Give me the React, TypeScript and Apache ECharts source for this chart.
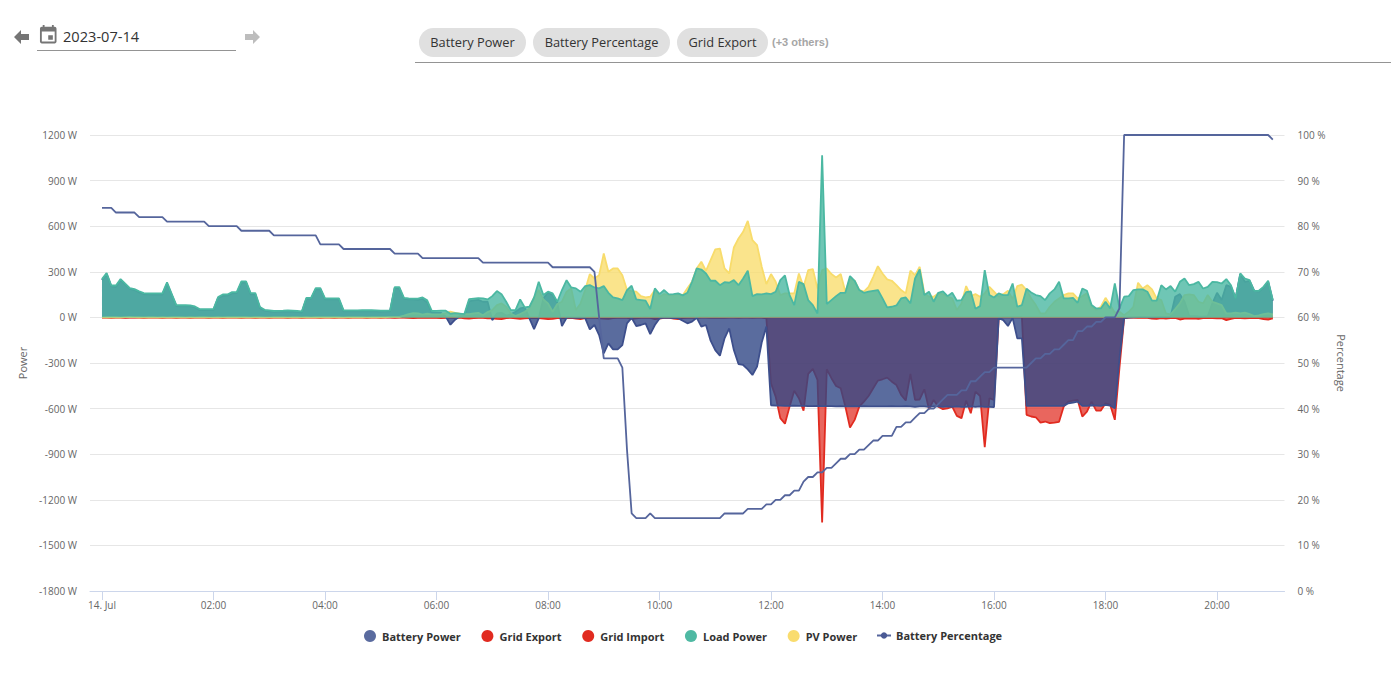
import React, { useEffect, useRef } from "react";
import * as echarts from "echarts";

const STEP_MINUTES = 5;
const xLabelMinutes = [0, 120, 240, 360, 480, 600, 720, 840, 960, 1080, 1200];
const chips = ["Battery Power", "Battery Percentage", "Grid Export"];

const loadPower = [
  252, 291, 210, 210, 252, 222, 193, 186, 172, 160, 158, 158,
  158, 158, 230, 155, 81, 80, 80, 79, 72, 55, 55, 55,
  55, 134, 151, 151, 166, 166, 237, 237, 160, 160, 68, 50,
  46, 42, 43, 44, 46, 44, 42, 39, 129, 129, 193, 193,
  125, 125, 125, 125, 46, 46, 46, 46, 47, 47, 48, 46,
  44, 45, 46, 199, 199, 129, 125, 124, 123, 131, 112, 42,
  43, 44, 44, 24, 28, 25, 22, 120, 124, 127, 125, 118,
  140, 173, 153, 103, 48, 48, 118, 66, 70, 131, 234, 147,
  169, 158, 103, 180, 245, 197, 191, 169, 206, 212, 197, 191,
  206, 162, 131, 125, 114, 180, 208, 118, 114, 110, 55, 191,
  153, 180, 151, 153, 158, 145, 162, 234, 322, 315, 289, 241,
  241, 212, 232, 228, 245, 212, 256, 307, 140, 153, 151, 158,
  153, 169, 245, 276, 147, 81, 234, 219, 114, 81, 26, 1066,
  88, 114, 140, 162, 162, 272, 241, 180, 162, 169, 175, 180,
  125, 66, 70, 79, 125, 131, 92, 256, 315, 147, 169, 103,
  162, 171, 140, 162, 110, 114, 166, 171, 57, 74, 311, 147,
  131, 158, 147, 147, 223, 70, 81, 188, 164, 147, 140, 114,
  158, 184, 234, 125, 125, 129, 96, 190, 175, 81, 59, 59,
  103, 59, 223, 59, 136, 140, 180, 184, 184, 169, 110, 110,
  212, 184, 206, 169, 234, 256, 212, 219, 234, 190, 201, 234,
  232, 223, 252, 212, 125, 289, 256, 245, 175, 175, 201, 241,
  114,
];

const pvPower = [
  0, 1, 2, 1, 0, 2, 3, 2, 1, 0, 1, 1,
  0, 1, 0, 1, 2, 1, 0, 1, 0, 1, 1, 0,
  0, 1, 0, 1, 1, 2, 1, 1, 0, 1, 1, 0,
  0, 1, 2, 1, 0, 1, 1, 0, 1, 0, 1, 1,
  1, 1, 2, 1, 0, 1, 1, 2, 1, 0, 1, 1,
  2, 1, 4, 3, 4, 12, 22, 28, 26, 18, 24, 20,
  20, 22, 28, 38, 30, 24, 22, 22, 26, 30, 14, 35,
  48, 81, 92, 70, 26, 9, 22, 37, 59, 131, 180, 118,
  92, 37, 88, 103, 169, 191, 48, 92, 180, 285, 256, 278,
  420, 300, 322, 322, 278, 180, 173, 169, 140, 131, 136, 180,
  136, 153, 147, 145, 153, 145, 191, 234, 322, 366, 307, 377,
  447, 453, 322, 289, 460, 519, 563, 635, 508, 475, 333, 219,
  285, 234, 147, 158, 158, 158, 289, 201, 311, 318, 190, 311,
  322, 285, 263, 285, 169, 256, 241, 180, 169, 201, 267, 337,
  289, 250, 241, 212, 180, 158, 307, 278, 333, 158, 136, 136,
  158, 153, 136, 125, 48, 92, 206, 140, 153, 136, 158, 201,
  169, 136, 153, 175, 120, 206, 215, 180, 125, 81, 26, 26,
  70, 103, 125, 147, 158, 158, 125, 140, 158, 70, 48, 70,
  129, 81, 31, 37, 15, 37, 70, 228, 190, 212, 184, 125,
  114, 26, 20, 55, 92, 147, 151, 147, 103, 92, 147, 103,
  92, 81, 26, 26, 31, 26, 31, 22, 9, 13, 22, 26,
  20,
];

const batteryPower = [
  245, 285, 205, 200, 245, 215, 188, 180, 165, 152, 152, 150,
  152, 150, 222, 148, 74, 72, 73, 72, 66, 48, 48, 50,
  50, 128, 142, 143, 158, 160, 228, 230, 152, 152, 62, 44,
  40, 36, 38, 38, 40, 38, 37, 32, 122, 122, 185, 186,
  118, 118, 120, 118, 40, 40, 40, 40, 42, 40, 42, 40,
  38, 40, 40, 192, 190, 122, 118, 118, 116, 122, 98, 30,
  30, 30, 5, -48, -15, 8, 10, 105, 112, 115, 103, 103,
  -18, 26, 30, 12, 20, 37, 59, 66, -7, -77, -7, 125,
  164, 147, 96, -57, -2, -2, -3, -2, -5, -79, -50, -116,
  -236, -171, -210, -210, -182, -39, -3, -57, -50, -39, -110, -50,
  -7, -2, -3, -5, -5, -22, -39, -28, -2, -61, -50, -153,
  -215, -252, -138, -72, -215, -307, -313, -342, -379, -324, -165, -60,
  -578, -580, -580, -582, -582, -580, -582, -582, -584, -584, -582, -584,
  -584, -584, -586, -584, -586, -586, -584, -586, -584, -586, -586, -586,
  -586, -586, -584, -586, -586, -584, -586, -588, -586, -586, -588, -586,
  -586, -588, -586, -588, -586, -588, -588, -586, -588, -586, -588, -588,
  -590, -5, -18, -57, -3, -138, -138, -582, -582, -582, -582, -582,
  -582, -582, -582, -582, -565, -560, -554, -582, -582, -578, -580, -582,
  -575, -580, -598, -270, -5, -2, 0, 2, 3, 2, 0, 2,
  3, 2, 4, 136, 153, 103, 10, 8, 6, 5, 8, 92,
  162, 114, 212, 201, 125, 285, 234, 241, 175, 169, 197, 234,
  110,
];

const gridExport = [
  0, 0, 0, 0, 0, 0, 0, 0, 0, 0, 0, 0,
  0, 0, 0, 0, 0, 0, 0, 0, 0, 0, 0, 0,
  0, 0, 0, 0, 0, 0, 0, 0, 0, 0, 0, 0,
  0, 0, 0, 0, 0, 0, 0, 0, 0, 0, 0, 0,
  0, 0, 0, 0, 0, 0, 0, 0, 0, 0, 0, 0,
  0, 0, 0, 0, 0, 0, 0, 0, 0, 0, 0, 0,
  0, 0, 0, 0, 0, 0, 0, 0, 0, 0, 0, 0,
  0, 0, 0, 0, 0, 0, 0, 0, 0, 0, 0, 0,
  0, 0, 0, 0, 0, 0, 0, 0, 0, 0, 0, 0,
  0, 0, 0, 0, 0, 0, 0, 0, 0, 0, 0, 0,
  0, 0, 0, 0, 0, 0, 0, 0, 0, 0, 0, 0,
  0, 0, 0, 0, 0, 0, 0, 0, 0, 0, 0, -7,
  -434, -521, -663, -700, -587, -482, -532, -613, -372, -339, -411, -1349,
  -341, -400, -451, -466, -587, -725, -674, -587, -554, -517, -466, -416,
  -407, -396, -423, -445, -510, -547, -372, -543, -540, -473, -604, -543,
  -587, -604, -598, -587, -648, -663, -547, -631, -488, -517, -854, -532,
  -543, -7, 0, 0, 0, 0, 0, -641, -652, -657, -692, -685,
  -696, -692, -687, -586, -554, -547, -543, -652, -620, -554, -613, -613,
  -565, -575, -674, -330, -7, 0, 0, 0, 0, 0, 0, 0,
  0, 0, 0, 0, 0, 0, 0, 0, 0, 0, 0, 0,
  0, 0, 0, 0, 0, 0, 0, 0, 0, 0, 0, 0,
  0,
];

const gridImport = [
  -2, -2, -3, -2, -2, -3, -2, -2, -2, -3, -2, -2,
  -2, -3, -2, -2, -3, -2, -2, -3, -2, -2, -2, -3,
  -2, -2, -3, -2, -2, -2, -3, -2, -2, -3, -2, -2,
  -3, -2, -2, -2, -3, -2, -2, -3, -2, -2, -2, -3,
  -2, -2, -3, -2, -2, -3, -2, -2, -2, -3, -2, -2,
  -3, -2, -2, -3, -2, -2, -3, -4, -3, -2, -3, -3,
  -3, -5, -3, -2, -3, -2, -6, -8, -5, -3, -3, -6,
  -6, -10, -12, -4, -3, -6, -10, -6, -4, -3, -4, -8,
  -12, -10, -5, -3, -4, -3, -8, -12, -4, -3, -2, -6,
  -8, -10, -4, -3, -2, -3, -10, -6, -3, -2, -3, -12,
  -8, -3, -2, -8, -12, -5, -3, -2, -3, -2, -2, -3,
  -2, -3, -3, -2, -2, -3, -2, -2, -3, -2, -2, -3,
  0, 0, 0, 0, 0, 0, 0, 0, 0, 0, 0, 0,
  0, 0, 0, 0, 0, 0, 0, 0, 0, 0, 0, 0,
  0, 0, 0, 0, 0, 0, 0, 0, 0, 0, 0, 0,
  0, 0, 0, 0, 0, 0, 0, 0, 0, 0, 0, 0,
  0, 0, 0, 0, 0, 0, 0, 0, 0, 0, 0, 0,
  0, 0, 0, 0, 0, 0, 0, 0, 0, 0, 0, 0,
  0, 0, 0, 0, 0, -2, -2, -3, -2, -3, -8, -10,
  -4, -8, -5, -3, -14, -8, -8, -6, -9, -4, -3, -5,
  -7, -5, -18, -10, -3, -4, -6, -5, -4, -4, -12, -14,
  -6,
];

const batteryPercentage = [
  84, 84, 84, 83, 83, 83, 83, 83, 82, 82, 82, 82,
  82, 82, 81, 81, 81, 81, 81, 81, 81, 81, 81, 80,
  80, 80, 80, 80, 80, 80, 79, 79, 79, 79, 79, 79,
  79, 78, 78, 78, 78, 78, 78, 78, 78, 78, 78, 76,
  76, 76, 76, 76, 75, 75, 75, 75, 75, 75, 75, 75,
  75, 75, 75, 74, 74, 74, 74, 74, 74, 73, 73, 73,
  73, 73, 73, 73, 73, 73, 73, 73, 73, 73, 72, 72,
  72, 72, 72, 72, 72, 72, 72, 72, 72, 72, 72, 72,
  72, 71, 71, 71, 71, 71, 71, 71, 71, 71, 70, 60,
  51, 51, 51, 51, 49, 31, 17, 16, 16, 16, 17, 16,
  16, 16, 16, 16, 16, 16, 16, 16, 16, 16, 16, 16,
  16, 16, 17, 17, 17, 17, 17, 18, 18, 18, 18, 19,
  19, 20, 20, 21, 21, 22, 22, 24, 25, 25, 26, 26,
  27, 27, 28, 29, 29, 30, 30, 31, 31, 32, 33, 33,
  34, 34, 34, 36, 36, 37, 37, 38, 39, 39, 40, 40,
  41, 42, 43, 43, 43, 44, 44, 46, 46, 47, 48, 48,
  49, 49, 49, 49, 49, 49, 49, 49, 50, 51, 51, 52,
  52, 53, 53, 54, 55, 55, 57, 57, 58, 58, 59, 59,
  60, 60, 60, 62, 100, 100, 100, 100, 100, 100, 100, 100,
  100, 100, 100, 100, 100, 100, 100, 100, 100, 100, 100, 100,
  100, 100, 100, 100, 100, 100, 100, 100, 100, 100, 100, 100,
  99,
];

const CALENDAR_PATH =
  "M17 12h-5v5h5v-5zM16 1v2H8V1H6v2H5c-1.11 0-1.99.9-1.99 2L3 19c0 1.1.89 2 2 2h14c1.1 0 2-.9 2-2V5c0-1.1-.9-2-2-2h-1V1h-2zm3 18H5V8h14v11z";
echarts.graphic.registerShape("calendarIcon", echarts.graphic.extendPath(CALENDAR_PATH, {}));

const FONT = '"Open Sans", sans-serif';
const pairs = (values: number[]) => values.map((v, i) => [i * STEP_MINUTES, v]);
const pad2 = (n: number) => String(n).padStart(2, "0");

const areaSeries = (name: string, values: number[], line: string, fill: string, opacity: number, z: number) => ({
  name,
  type: "line",
  z,
  data: pairs(values),
  xAxisIndex: 0,
  yAxisIndex: 0,
  symbol: "none",
  silent: true,
  lineStyle: { color: line, width: 1.8 },
  itemStyle: { color: line },
  areaStyle: { color: fill, opacity },
});

const chipBoxes = [
  { x: 419, w: 107 },
  { x: 533, w: 137 },
  { x: 677, w: 91 },
];

function toolbar() {
  const items: any[] = [
    { type: "polygon", silent: true, shape: { points: [[14, 37], [21, 30], [21, 34], [29, 34], [29, 40], [21, 40], [21, 44]] }, style: { fill: "#757575" } },
    { type: "polygon", silent: true, shape: { points: [[260, 37], [253, 30], [253, 34], [245, 34], [245, 40], [253, 40], [253, 44]] }, style: { fill: "#bdbdbd" } },
    { type: "calendarIcon", silent: true, x: 37.2, y: 24.1, scaleX: 0.92, scaleY: 0.92, style: { fill: "#757575" } },
    { type: "text", silent: true, x: 63, y: 36, style: { text: "2023-07-14", font: `14.6px ${FONT}`, fill: "#333333", verticalAlign: "middle" } },
    { type: "line", silent: true, shape: { x1: 37, y1: 50.5, x2: 236, y2: 50.5 }, style: { stroke: "#949494", lineWidth: 1 } },
    { type: "line", silent: true, shape: { x1: 415, y1: 62.5, x2: 1391, y2: 62.5 }, style: { stroke: "#949494", lineWidth: 1 } },
    { type: "text", silent: true, x: 772, y: 42, style: { text: "(+3 others)", font: 'bold 11px "Liberation Sans", Arial, sans-serif', fill: "#a6a6a6", verticalAlign: "middle" } },
  ];
  chips.forEach((label, i) => {
    const box = chipBoxes[i];
    items.push({ type: "rect", silent: true, shape: { x: box.x, y: 28, width: box.w, height: 29, r: 14.5 }, style: { fill: "#e0e0e0" } });
    items.push({ type: "text", silent: true, x: box.x + box.w / 2, y: 42, style: { text: label, font: `12.8px ${FONT}`, fill: "#333333", align: "center", verticalAlign: "middle" } });
  });
  return items;
}

export default function App() {
  const ref = useRef<HTMLDivElement>(null);

  useEffect(() => {
    document.body.style.margin = "0";
    const chart = echarts.init(ref.current!, undefined, { renderer: "svg" });
    chart.setOption({
      animation: false,
      backgroundColor: "#ffffff",
      textStyle: { fontFamily: FONT },
      grid: { left: 90, top: 135, width: 1194.5, height: 456, containLabel: false },
      graphic: { elements: toolbar() },
      legend: [
        {
          left: 359,
          top: 625,
          icon: "circle",
          itemWidth: 12,
          itemHeight: 12,
          itemGap: 20.6,
          selectedMode: false,
          textStyle: { fontFamily: FONT, fontSize: 11, fontWeight: "bold", color: "#333333", padding: [0, 0, 0, 1] },
          data: [
            { name: "Battery Power", itemStyle: { color: "#5a6b9f" } },
            { name: "Grid Export", itemStyle: { color: "#e12b20" } },
            { name: "Grid Import", itemStyle: { color: "#e12b20" } },
            { name: "Load Power", itemStyle: { color: "#4fb9a3" } },
            { name: "PV Power", itemStyle: { color: "#f9dc6e" } },
          ],
        },
        {
          left: 871,
          top: 625,
          itemWidth: 14,
          itemHeight: 8,
          selectedMode: false,
          textStyle: { fontFamily: FONT, fontSize: 11, fontWeight: "bold", color: "#333333" },
          data: ["Battery Percentage"],
        },
      ],
      xAxis: {
        type: "value",
        min: -12.9,
        max: 1272.6,
        axisLine: { show: true, onZero: false, lineStyle: { color: "#ccd6eb", width: 1 } },
        axisTick: { show: true, length: 9, lineStyle: { color: "#ccd6eb" }, customValues: xLabelMinutes },
        splitLine: { show: false },
        axisLabel: {
          customValues: xLabelMinutes,
          color: "#666666",
          fontFamily: FONT,
          fontSize: 10,
          margin: 9,
          formatter: (v: number) => (v === 0 ? "14. Jul" : `${pad2(Math.floor(v / 60))}:${pad2(v % 60)}`),
        },
      },
      yAxis: [
        {
          type: "value",
          min: -1800,
          max: 1200,
          interval: 300,
          name: "Power",
          nameLocation: "middle",
          nameGap: 59,
          nameTextStyle: { color: "#666666", fontFamily: FONT, fontSize: 11 },
          axisLine: { show: false },
          axisTick: { show: false },
          axisLabel: { color: "#666666", fontFamily: FONT, fontSize: 10, margin: 13, padding: [0, 0, 2, 0], formatter: (v: number) => `${v} W` },
          splitLine: { show: true, lineStyle: { color: "#e6e6e6", width: 1 } },
        },
        {
          type: "value",
          min: 0,
          max: 100,
          interval: 10,
          position: "right",
          name: "Percentage",
          nameLocation: "middle",
          nameGap: 49,
          nameRotate: -90,
          nameTextStyle: { color: "#666666", fontFamily: FONT, fontSize: 11 },
          axisLine: { show: false },
          axisTick: { show: false },
          axisLabel: { color: "#666666", fontFamily: FONT, fontSize: 10, margin: 13, padding: [0, 0, 2, 0], formatter: (v: number) => `${v} %` },
          splitLine: { show: false },
        },
      ],
      series: [
        areaSeries("Grid Import", gridImport, "#e12b20", "#e12b20", 0.75, 2),
        areaSeries("Grid Export", gridExport, "#e12b20", "#e12b20", 0.72, 3),
        areaSeries("Battery Power", batteryPower, "#3d4f8c", "#314786", 0.8, 4),
        areaSeries("PV Power", pvPower, "#f8dc6c", "#f8dc6c", 0.78, 5),
        areaSeries("Load Power", loadPower, "#4bb8a2", "#4bb8a2", 0.8, 6),
        {
          name: "Battery Percentage",
          type: "line",
          z: 7,
          data: pairs(batteryPercentage),
          xAxisIndex: 0,
          yAxisIndex: 1,
          symbol: "circle",
          symbolSize: 5,
          showSymbol: false,
          silent: true,
          lineStyle: { color: "#55659c", width: 1.8 },
          itemStyle: { color: "#4a5a95" },
        },
      ],
    });
    return () => chart.dispose();
  }, []);

  return <div ref={ref} style={{ position: "fixed", left: 0, top: 0, width: 1391, height: 697 }} />;
}
